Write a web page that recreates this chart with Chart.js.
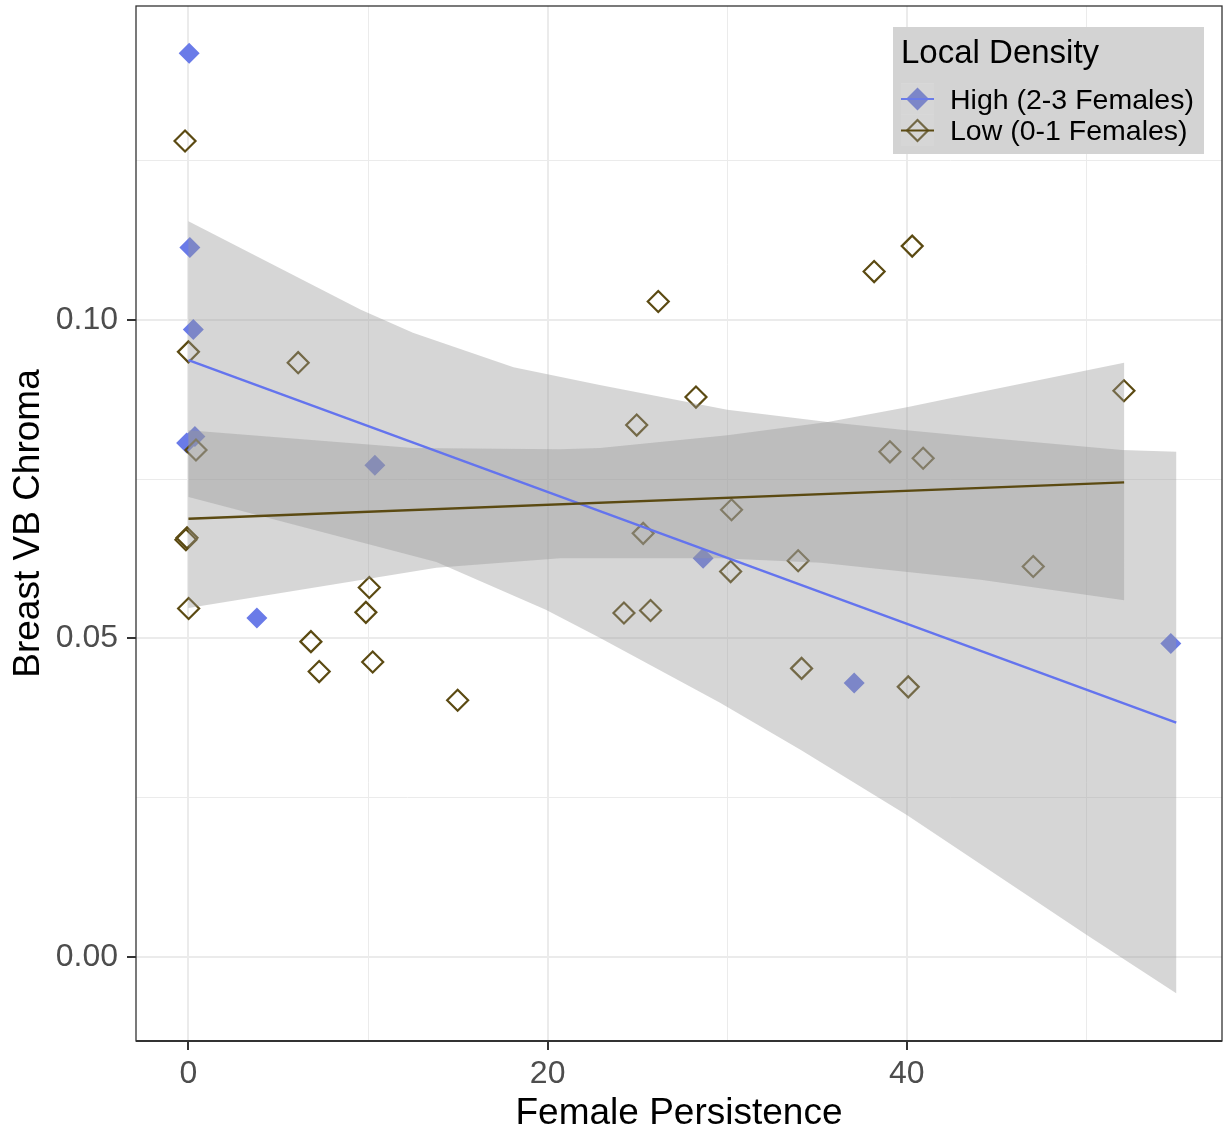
<!DOCTYPE html>
<html>
<head>
<meta charset="utf-8">
<script src="https://cdn.jsdelivr.net/npm/chart.js@4.4.1/dist/chart.umd.min.js"></script>
<style>
	body { margin: 0; background: #ffffff; }
	canvas { display: block; }
</style>
</head>
<body>
<canvas id="chart" width="1223" height="1133"></canvas>
<script>
// axis labels and ticks
const xTitle = "Female Persistence";
const yTitle = "Breast VB Chroma";
const xTickValues = [0, 20, 40];
const xTickLabels = ["0", "20", "40"];
const xMinorValues = [10, 30, 50];
const yTickValues = [0, 0.05, 0.10];
const yTickLabels = ["0.00", "0.05", "0.10"];
const yMinorValues = [0.025, 0.075, 0.125];
const xRange = [-2.92, 57.55];
const yRange = [-0.0132, 0.1493];

// legend
const legendTitle = "Local Density";
const groups = ["High (2-3 Females)", "Low (0-1 Females)"];

// High density points
const highX = [0.04, 0.08, 0.27, -0.1, 0.36, 10.38, 3.81, 28.66, 37.07, 54.7];
const highY = [0.1419, 0.1114, 0.0985, 0.0807, 0.0817, 0.0772, 0.0532, 0.0626, 0.0430, 0.0492];

// Low density points
const lowX = [-0.19, 0, 6.11, 0.42, -0.14, -0.08, 0.01, 10.07, 9.88, 6.82,
	7.28, 10.26, 14.99, 24.25, 25.73, 30.19, 33.95, 34.14, 25.32, 40.08,
	26.16, 38.18, 40.3, 28.26, 24.96, 39.06, 40.91, 30.24, 52.09, 47.04];
const lowY = [0.1281, 0.0950, 0.0933, 0.0796, 0.0655, 0.0658, 0.0547, 0.0580, 0.0541, 0.0495,
	0.0448, 0.0463, 0.0403, 0.0540, 0.0544, 0.0605, 0.0622, 0.0453, 0.0665, 0.0424,
	0.1029, 0.1076, 0.1116, 0.0879, 0.0835, 0.0793, 0.0783, 0.0702, 0.0889, 0.0613];

// fitted lines
const highFitX = [0, 55.0];
const highFitY = [0.0937, 0.0368];
const lowFitX = [0, 52.1];
const lowFitY = [0.0688, 0.0745];

// confidence bands
const highUpperX = [0, 9.6, 12.5, 18.1, 22.9, 30.0, 35.6, 40.0, 44.1, 52.0, 55.0];
const highUpperY = [0.1155, 0.1016, 0.0980, 0.0926, 0.0898, 0.0859, 0.0840, 0.0827, 0.0816, 0.0796, 0.0793];
const highLowerX = [0, 13.8, 14.7, 19.9, 22.9, 29.6, 34.1, 40.0, 50.0, 55.0];
const highLowerY = [0.0722, 0.0620, 0.0609, 0.0545, 0.0501, 0.0399, 0.0325, 0.0223, 0.0035, -0.0057];
const lowUpperX = [0, 12.5, 20.7, 22.9, 30.0, 35.6, 40.0, 44.1, 52.1];
const lowUpperY = [0.0827, 0.0799, 0.0797, 0.0799, 0.0819, 0.0840, 0.0863, 0.0887, 0.0933];
const lowLowerX = [0, 13.8, 20.7, 29.6, 35.2, 44.1, 52.1];
const lowLowerY = [0.0548, 0.0611, 0.0626, 0.0626, 0.0619, 0.0592, 0.0560];

const FONT = "'Liberation Sans', Arial, sans-serif";
const BLUE = "#6A7BE8";
const BROWN = "#5B4A12";
const RIBBON = "rgba(153, 153, 153, 0.4)";

function toPoints(xs, ys) {
	return xs.map((x, i) => ({ x: x, y: ys[i] }));
}

// closed outline: upper edge left to right, lower edge back
function band(ux, uy, lx, ly) {
	return toPoints(ux, uy).concat(toPoints(lx, ly).reverse());
}

function isMajor(list, v) {
	return list.some((m) => Math.abs(m - v) < 1e-9);
}

function diamond(ctx, cx, cy, r) {
	ctx.beginPath();
	ctx.moveTo(cx - r, cy);
	ctx.lineTo(cx, cy - r);
	ctx.lineTo(cx + r, cy);
	ctx.lineTo(cx, cy + r);
	ctx.closePath();
}

// no extra room for overflowing tick labels
function noPadding(axis) {
	axis.paddingTop = 0;
	axis.paddingBottom = 0;
	axis.paddingLeft = 0;
	axis.paddingRight = 0;
}

const panelBorder = {
	id: "panelBorder",
	afterDatasetsDraw(chart) {
		const { ctx, chartArea } = chart;
		ctx.save();
		ctx.strokeStyle = "#333333";
		ctx.lineWidth = 1.3;
		ctx.strokeRect(chartArea.left, chartArea.top, chartArea.right - chartArea.left, chartArea.bottom - chartArea.top);
		ctx.lineWidth = 2;
		ctx.beginPath();
		ctx.moveTo(chartArea.left, chartArea.bottom);
		ctx.lineTo(chartArea.right, chartArea.bottom);
		ctx.stroke();
		ctx.restore();
	},
};

const insetLegend = {
	id: "insetLegend",
	afterDraw(chart) {
		const ctx = chart.ctx;
		ctx.save();
		ctx.fillStyle = "#D3D3D3";
		ctx.fillRect(893, 27, 311, 127);
		ctx.fillStyle = "#000000";
		ctx.textBaseline = "middle";
		ctx.textAlign = "left";
		ctx.font = "33px " + FONT;
		ctx.fillText(legendTitle, 901, 54);
		const colors = [BLUE, BROWN];
		groups.forEach((g, i) => {
			const cy = 99 + i * 31.5;
			ctx.fillStyle = "#ffffff";
			ctx.fillRect(901, cy - 15.5, 33, 31);
			diamond(ctx, 917.5, cy, i === 0 ? 11.5 : 10.5);
			if (i === 0) {
				ctx.fillStyle = colors[i];
				ctx.fill();
			} else {
				ctx.strokeStyle = colors[i];
				ctx.lineWidth = 2.2;
				ctx.stroke();
			}
			ctx.fillStyle = RIBBON;
			ctx.fillRect(901, cy - 15.5, 33, 31);
			ctx.strokeStyle = colors[i];
			ctx.lineWidth = 2;
			ctx.beginPath();
			ctx.moveTo(901, cy);
			ctx.lineTo(934, cy);
			ctx.stroke();
			ctx.fillStyle = "#000000";
			ctx.font = "28.5px " + FONT;
			ctx.fillText(g, 950, cy + 2);
		});
		ctx.restore();
	},
};

Chart.defaults.font.family = FONT;

new Chart(document.getElementById("chart"), {
	type: "scatter",
	data: {
		datasets: [
			{
				type: "line",
				label: "Low fit",
				data: toPoints(lowFitX, lowFitY),
				borderColor: BROWN,
				borderWidth: 2.4,
				pointRadius: 0,
				showLine: true,
				fill: false,
				order: 1,
			},
			{
				type: "line",
				label: "High fit",
				data: toPoints(highFitX, highFitY),
				borderColor: "#6474EE",
				borderWidth: 2.4,
				pointRadius: 0,
				showLine: true,
				fill: false,
				order: 2,
			},
			{
				type: "line",
				label: "Low band",
				data: band(lowUpperX, lowUpperY, lowLowerX, lowLowerY),
				backgroundColor: RIBBON,
				borderWidth: 0,
				borderColor: "rgba(0,0,0,0)",
				pointRadius: 0,
				showLine: true,
				fill: "shape",
				order: 4,
			},
			{
				type: "line",
				label: "High band",
				data: band(highUpperX, highUpperY, highLowerX, highLowerY),
				backgroundColor: RIBBON,
				borderWidth: 0,
				borderColor: "rgba(0,0,0,0)",
				pointRadius: 0,
				showLine: true,
				fill: "shape",
				order: 5,
			},
			{
				label: groups[1],
				data: toPoints(lowX, lowY),
				pointStyle: "rectRot",
				pointRadius: 10.5,
				backgroundColor: "rgba(0,0,0,0)",
				borderColor: BROWN,
				borderWidth: 2.2,
				order: 8,
			},
			{
				label: groups[0],
				data: toPoints(highX, highY),
				pointStyle: "rectRot",
				pointRadius: 10.5,
				backgroundColor: BLUE,
				borderWidth: 0,
				order: 9,
			},
		],
	},
	options: {
		responsive: false,
		animation: false,
		devicePixelRatio: 1,
		layout: { autoPadding: false, padding: { top: 6, right: 1, left: 0, bottom: 0 } },
		plugins: {
			legend: { display: false },
			tooltip: { enabled: false },
		},
		scales: {
			x: {
				type: "linear",
				min: xRange[0],
				max: xRange[1],
				afterBuildTicks: (axis) => {
					axis.ticks = xTickValues.concat(xMinorValues).sort((a, b) => a - b).map((v) => ({ value: v }));
				},
				afterFit: (axis) => {
					axis.height = 92;
					noPadding(axis);
				},
				ticks: {
					autoSkip: false,
					maxRotation: 0,
					padding: 5,
					color: "#4D4D4D",
					font: { size: 32 },
					callback: (v) => (isMajor(xTickValues, v) ? xTickLabels[xTickValues.findIndex((m) => Math.abs(m - v) < 1e-9)] : ""),
				},
				grid: {
					color: "#EBEBEB",
					lineWidth: (c) => (c.tick && isMajor(xTickValues, c.tick.value) ? 2 : 1),
					tickLength: 9,
					tickWidth: 2,
					tickColor: (c) => (c.tick && isMajor(xTickValues, c.tick.value) ? "#333333" : "rgba(0,0,0,0)"),
				},
				border: { display: false },
				title: {
					display: true,
					text: xTitle,
					color: "#000000",
					font: { size: 37, lineHeight: 1 },
					padding: { top: 0, bottom: 1 },
				},
			},
			y: {
				type: "linear",
				min: yRange[0],
				max: yRange[1],
				afterBuildTicks: (axis) => {
					axis.ticks = yTickValues.concat(yMinorValues).sort((a, b) => a - b).map((v) => ({ value: v }));
				},
				afterFit: (axis) => {
					axis.width = 136;
					noPadding(axis);
				},
				ticks: {
					autoSkip: false,
					padding: 9,
					color: "#4D4D4D",
					font: { size: 32 },
					callback: (v) => (isMajor(yTickValues, v) ? yTickLabels[yTickValues.findIndex((m) => Math.abs(m - v) < 1e-9)] : ""),
				},
				grid: {
					color: "#EBEBEB",
					lineWidth: (c) => (c.tick && isMajor(yTickValues, c.tick.value) ? 2 : 1),
					tickLength: 9,
					tickWidth: 2,
					tickColor: (c) => (c.tick && isMajor(yTickValues, c.tick.value) ? "#333333" : "rgba(0,0,0,0)"),
				},
				border: { display: false },
				title: {
					display: true,
					text: yTitle,
					color: "#000000",
					font: { size: 37, lineHeight: 1 },
					padding: { top: 10, bottom: 0 },
				},
			},
		},
	},
	plugins: [panelBorder, insetLegend],
});
</script>
</body>
</html>
